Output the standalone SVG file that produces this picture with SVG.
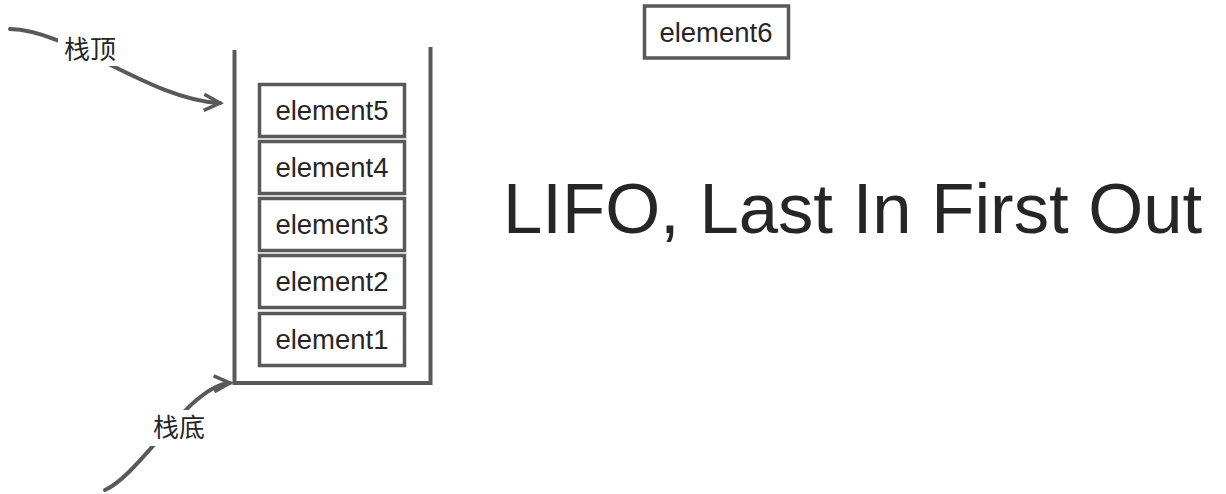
<svg xmlns="http://www.w3.org/2000/svg" width="1226" height="494" viewBox="0 0 1226 494">
<style>
.box{fill:#fff;stroke:#595959;stroke-width:3.5}
.t{font-family:"Liberation Sans",Arial,sans-serif;font-size:27.5px;fill:#262626;text-anchor:middle}
.cjk{font-family:"Liberation Sans","Noto Sans CJK SC",sans-serif;font-size:26px;fill:#262626;text-anchor:middle}
.wall{fill:none;stroke:#595959;stroke-width:4}
.conn{fill:none;stroke:#595959;stroke-width:4;stroke-linecap:round}
</style>
<defs>
<marker id="ah" markerWidth="24" markerHeight="24" refX="18" refY="12" orient="auto" markerUnits="userSpaceOnUse" viewBox="0 0 24 24">
<path d="M2,4 L18,12 L2,20" fill="none" stroke="#595959" stroke-width="3.5"/>
</marker>
</defs>
<rect width="1226" height="494" fill="#fff"/>
<g id="stack">
<path class="wall" d="M234.5,50 V383 H430.5 V47"/>
</g>
<g id="element5"><rect class="box" x="259.5" y="84.5" width="145" height="52"/><text class="t" x="332" y="120">element5</text></g>
<g id="element4"><rect class="box" x="259.5" y="141.5" width="145" height="52"/><text class="t" x="332" y="177">element4</text></g>
<g id="element3"><rect class="box" x="259.5" y="198.5" width="145" height="52"/><text class="t" x="332" y="234">element3</text></g>
<g id="element2"><rect class="box" x="259.5" y="255.5" width="145" height="52"/><text class="t" x="332" y="291">element2</text></g>
<g id="element1"><rect class="box" x="259.5" y="313.5" width="145" height="52"/><text class="t" x="332" y="348.5">element1</text></g>
<g id="element6"><rect class="box" x="644.5" y="6" width="144" height="52"/><text class="t" x="716" y="41.5">element6</text></g>
<g id="title"><text x="503" y="233" style="font-family:'Liberation Sans',Arial,sans-serif;font-size:70.7px;fill:#262626">LIFO, Last In First Out</text></g>
<g id="connectors">
<path class="conn" d="M10,29 C70,30 150,100 220,103" marker-end="url(#ah)"/>
<path class="conn" d="M105,490 C140,475 190,385 230,383" marker-end="url(#ah)"/>
<rect x="58" y="32" width="64" height="34" fill="#fff"/>
<text class="cjk" x="90" y="59">栈顶</text>
<rect x="147" y="410" width="64" height="36" fill="#fff"/>
<text class="cjk" x="179" y="437">栈底</text>
</g>
</svg>
